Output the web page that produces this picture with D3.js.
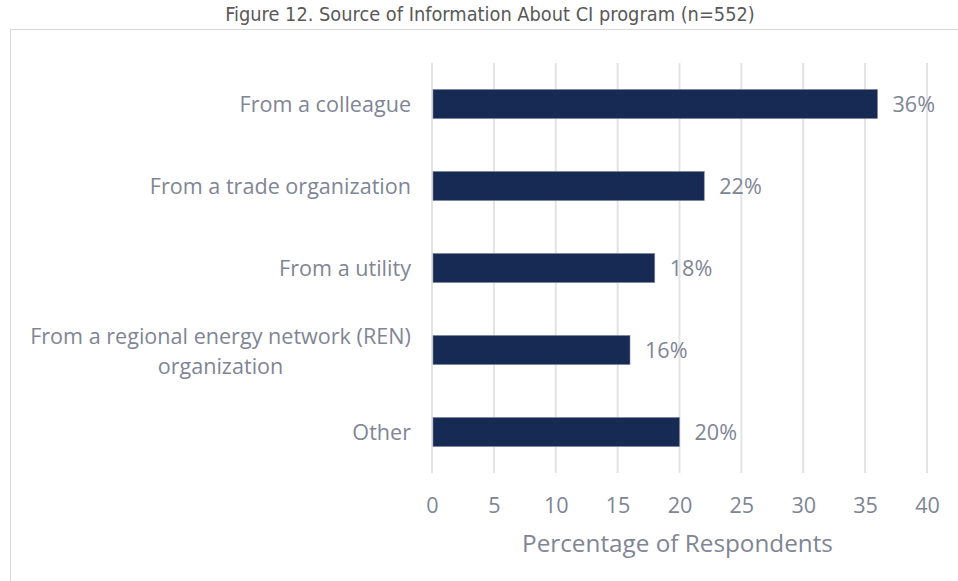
<!DOCTYPE html>
<html>
<head>
<meta charset="utf-8">
<script src="https://cdn.jsdelivr.net/npm/d3@7"></script>
<style>
  body { margin: 0; background: #fff; }
  text { font-family: "Open Sans", sans-serif; }
</style>
</head>
<body>
<script>
// data
var categories = ["From a colleague", "From a trade organization", "From a utility",
                  "From a regional energy network (REN) organization", "Other"];
var labelLines = [["From a colleague"], ["From a trade organization"], ["From a utility"],
                  ["From a regional energy network (REN)", "organization"], ["Other"]];
var values = [36, 22, 18, 16, 20];
var ticks = [0, 5, 10, 15, 20, 25, 30, 35, 40];

var W = 958, H = 581;
var margin = {top: 63, left: 432, right: 31, bottom: 108};
var width = W - margin.left - margin.right,
    height = H - margin.top - margin.bottom;

var grey = "#808595";

var svg = d3.select("body").append("svg")
  .attr("width", W).attr("height", H);

// size a text element so it spans a given width
function fit(sel, target) {
  var fs = parseFloat(sel.style("font-size"));
  var w = sel.node().getComputedTextLength();
  sel.style("font-size", (fs * target / w) + "px");
  return fs * target / w;
}

// title
var title = svg.append("text")
  .attr("x", 490).attr("y", 21)
  .attr("text-anchor", "middle")
  .style("font-family", "'Liberation Sans Narrow', 'DejaVu Sans Condensed', sans-serif")
  .style("font-size", "16px")
  .attr("fill", "#595959")
  .text("Figure 12. Source of Information About CI program (n=552)");
fit(title, 530);

// chart border
svg.append("rect")
  .attr("x", 10.5).attr("y", 29.5)
  .attr("width", 960).attr("height", 560)
  .attr("fill", "none")
  .attr("stroke", "#d9d9d9");

var g = svg.append("g")
  .attr("transform", "translate(" + margin.left + "," + margin.top + ")");

var x = d3.scaleLinear().domain([0, 40]).range([0, width]);
var y = d3.scaleBand().domain(categories).range([0, height]).paddingInner(0.645).paddingOuter(0.3225);

// gridlines
g.selectAll(".grid").data(ticks).enter().append("line")
  .attr("x1", function(d) { return x(d); })
  .attr("x2", function(d) { return x(d); })
  .attr("y1", 0).attr("y2", height)
  .attr("stroke", "#e3e3e3").attr("stroke-width", 2);

// bars
g.selectAll(".bar").data(values).enter().append("rect")
  .attr("x", x(0) + 1)
  .attr("y", function(d, i) { return y(categories[i]); })
  .attr("width", function(d) { return x(d) - x(0) - 1; })
  .attr("height", y.bandwidth())
  .attr("fill", "#172a54")
  .attr("stroke", "#7e88a0").attr("stroke-width", 0.6);

// category labels, sized from the longest line
var probe = g.append("text").style("font-size", "18px").text(labelLines[3][0]);
var labelSize = fit(probe, 381);
probe.remove();

var lab = g.selectAll(".cat").data(labelLines).enter().append("text")
  .style("font-size", labelSize + "px")
  .attr("fill", grey)
  .attr("y", function(d, i) { return y(categories[i]) + y.bandwidth() / 2; });
lab.each(function(lines) {
  var t = d3.select(this);
  if (lines.length === 1) {
    t.append("tspan").attr("x", -21).attr("dy", "0.35em")
      .attr("text-anchor", "end").text(lines[0]);
  } else {
    var cx = -21 - 381 / 2;
    lines.forEach(function(s, i) {
      t.append("tspan").attr("x", cx).attr("text-anchor", "middle")
        .attr("dy", i === 0 ? "-0.3em" : "1.4em").text(s);
    });
  }
});

// value labels
g.selectAll(".val").data(values).enter().append("text")
  .attr("x", function(d) { return x(d) + 15; })
  .attr("y", function(d, i) { return y(categories[i]) + y.bandwidth() / 2; })
  .attr("dy", "0.35em")
  .style("font-size", labelSize + "px")
  .attr("fill", grey)
  .text(function(d) { return d + "%"; });

// x axis
var xAxis = g.append("g")
  .attr("transform", "translate(0," + height + ")")
  .call(d3.axisBottom(x).tickValues(ticks).tickSize(0).tickPadding(25));
xAxis.select(".domain").remove();
xAxis.selectAll("text")
  .style("font-family", "'Open Sans', sans-serif")
  .style("font-size", labelSize + "px")
  .attr("fill", grey);

// axis title
var axTitle = g.append("text")
  .attr("x", x(20) - 2).attr("y", height + 79)
  .attr("text-anchor", "middle")
  .style("font-size", "20px")
  .attr("fill", grey)
  .text("Percentage of Respondents");
fit(axTitle, 311);
</script>
</body>
</html>
